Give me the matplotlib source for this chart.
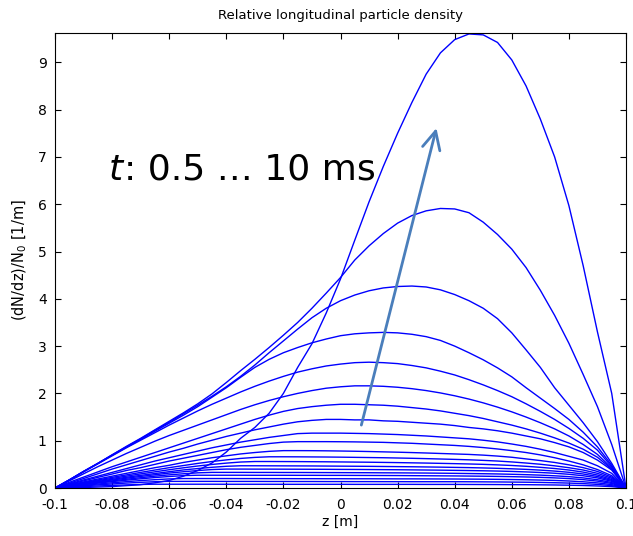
import matplotlib
matplotlib.use("Agg")
import matplotlib.pyplot as plt
from matplotlib.transforms import IdentityTransform

# ---------------- data ----------------
z = [-0.100, -0.095, -0.090, -0.085, -0.080, -0.075, -0.070, -0.065, -0.060, -0.055,
     -0.050, -0.045, -0.040, -0.035, -0.030, -0.025, -0.020, -0.015, -0.010, -0.005,
     0.000, 0.005, 0.010, 0.015, 0.020, 0.025, 0.030, 0.035, 0.040, 0.045,
     0.050, 0.055, 0.060, 0.065, 0.070, 0.075, 0.080, 0.085, 0.090, 0.095, 0.100]

t_ms = [0.5, 1.0, 1.5, 2.0, 2.5, 3.0, 3.5, 4.0, 4.5, 5.0,
        5.5, 6.0, 6.5, 7.0, 7.5, 8.0, 8.5, 9.0, 9.5, 10.0]

d_t10_0 = [0, 0.005, 0.01, 0.02, 0.03, 0.05, 0.07, 0.11, 0.16, 0.25, 0.37, 0.53, 0.76, 1.05,
           1.28, 1.58, 2.0, 2.55, 3.05, 3.7, 4.42, 5.24, 6.05, 6.8, 7.5, 8.15, 8.75, 9.2,
           9.48, 9.6, 9.58, 9.42, 9.05, 8.5, 7.8, 7.0, 5.97, 4.7, 3.3, 2.0, 0]
d_t9_5 = [0, 0.17, 0.35, 0.52, 0.70, 0.88, 1.05, 1.23, 1.41, 1.59, 1.78, 1.99, 2.23, 2.48,
          2.72, 2.97, 3.23, 3.50, 3.80, 4.12, 4.45, 4.82, 5.12, 5.38, 5.60, 5.76, 5.86, 5.91,
          5.90, 5.82, 5.62, 5.36, 5.05, 4.66, 4.18, 3.65, 3.06, 2.40, 1.72, 0.92, 0]
d_t9_0 = [0, 0.17, 0.35, 0.52, 0.70, 0.87, 1.04, 1.22, 1.39, 1.57, 1.75, 1.94, 2.14, 2.36,
          2.60, 2.86, 3.11, 3.36, 3.60, 3.80, 3.96, 4.08, 4.17, 4.23, 4.26, 4.27, 4.25, 4.19,
          4.09, 3.96, 3.80, 3.58, 3.28, 2.92, 2.55, 2.12, 1.75, 1.38, 0.98, 0.52, 0]
d_t8_5 = [0, 0.17, 0.35, 0.52, 0.69, 0.86, 1.03, 1.20, 1.37, 1.54, 1.72, 1.92, 2.12, 2.34,
          2.55, 2.72, 2.86, 2.97, 3.07, 3.15, 3.22, 3.26, 3.28, 3.29, 3.28, 3.25, 3.20, 3.12,
          3.00, 2.86, 2.71, 2.54, 2.35, 2.12, 1.90, 1.68, 1.45, 1.18, 0.87, 0.48, 0]
d_t8_0 = [0, 0.17, 0.34, 0.51, 0.68, 0.85, 1.01, 1.17, 1.33, 1.48, 1.63, 1.77, 1.90, 2.03,
          2.15, 2.26, 2.36, 2.45, 2.52, 2.58, 2.62, 2.65, 2.66, 2.65, 2.63, 2.59, 2.54, 2.47,
          2.39, 2.29, 2.18, 2.06, 1.93, 1.78, 1.62, 1.45, 1.26, 1.05, 0.80, 0.45, 0]
d_t7_5 = [0, 0.15, 0.30, 0.45, 0.59, 0.73, 0.86, 0.99, 1.11, 1.22, 1.33, 1.44, 1.55, 1.66,
          1.76, 1.85, 1.93, 2.00, 2.06, 2.11, 2.14, 2.16, 2.16, 2.15, 2.13, 2.10, 2.06, 2.01,
          1.95, 1.88, 1.80, 1.71, 1.61, 1.50, 1.38, 1.25, 1.10, 0.92, 0.71, 0.42, 0]
d_t7_0 = [0, 0.12, 0.23, 0.34, 0.45, 0.55, 0.65, 0.75, 0.85, 0.95, 1.05, 1.15, 1.25, 1.35,
          1.45, 1.54, 1.62, 1.68, 1.72, 1.75, 1.77, 1.77, 1.76, 1.75, 1.73, 1.70, 1.67, 1.63,
          1.58, 1.53, 1.47, 1.40, 1.33, 1.25, 1.16, 1.06, 0.95, 0.82, 0.65, 0.40, 0]
d_t6_5 = [0, 0.10, 0.20, 0.30, 0.40, 0.49, 0.58, 0.67, 0.76, 0.84, 0.93, 1.01, 1.09, 1.16,
          1.23, 1.29, 1.35, 1.40, 1.43, 1.45, 1.45, 1.44, 1.44, 1.42, 1.41, 1.39, 1.37, 1.35,
          1.32, 1.28, 1.25, 1.21, 1.16, 1.10, 1.04, 0.96, 0.87, 0.75, 0.59, 0.38, 0]
d_t6_0 = [0, 0.085, 0.17, 0.25, 0.33, 0.41, 0.49, 0.57, 0.64, 0.71, 0.78, 0.85, 0.91, 0.97,
          1.02, 1.07, 1.11, 1.15, 1.16, 1.16, 1.16, 1.155, 1.15, 1.14, 1.13, 1.115, 1.10, 1.08,
          1.06, 1.04, 1.01, 0.975, 0.93, 0.88, 0.82, 0.75, 0.67, 0.59, 0.47, 0.31, 0]
d_t5_5 = [0, 0.075, 0.15, 0.225, 0.295, 0.37, 0.43, 0.50, 0.57, 0.63, 0.69, 0.75, 0.81, 0.86,
          0.90, 0.94, 0.97, 0.98, 0.98, 0.98, 0.978, 0.975, 0.97, 0.965, 0.955, 0.945, 0.93,
          0.915, 0.90, 0.88, 0.855, 0.825, 0.79, 0.75, 0.70, 0.64, 0.57, 0.49, 0.39, 0.26, 0]
d_t5_0 = [0, 0.064, 0.128, 0.19, 0.25, 0.31, 0.37, 0.43, 0.48, 0.54, 0.59, 0.64, 0.68, 0.72,
          0.75, 0.775, 0.79, 0.79, 0.789, 0.786, 0.782, 0.777, 0.771, 0.764, 0.757, 0.749,
          0.74, 0.73, 0.72, 0.71, 0.695, 0.675, 0.65, 0.615, 0.58, 0.54, 0.49, 0.43, 0.35,
          0.23, 0]
d_t4_5 = [0, 0.057, 0.114, 0.17, 0.225, 0.277, 0.33, 0.38, 0.43, 0.475, 0.52, 0.56, 0.594,
          0.625, 0.647, 0.66, 0.66, 0.659, 0.657, 0.655, 0.652, 0.648, 0.644, 0.64, 0.634,
          0.628, 0.621, 0.613, 0.605, 0.596, 0.584, 0.57, 0.551, 0.528, 0.502, 0.469, 0.429,
          0.38, 0.31, 0.205, 0]
d_t4_0 = [0, 0.052, 0.104, 0.155, 0.203, 0.251, 0.298, 0.342, 0.386, 0.427, 0.465, 0.498,
          0.526, 0.549, 0.56, 0.56, 0.559, 0.558, 0.556, 0.554, 0.551, 0.548, 0.545, 0.541,
          0.537, 0.532, 0.527, 0.521, 0.515, 0.508, 0.5, 0.489, 0.476, 0.459, 0.437, 0.412,
          0.38, 0.336, 0.274, 0.18, 0]
d_t3_5 = [0, 0.047, 0.094, 0.14, 0.183, 0.227, 0.267, 0.306, 0.345, 0.382, 0.411, 0.438,
          0.459, 0.47, 0.47, 0.469, 0.468, 0.467, 0.466, 0.464, 0.462, 0.46, 0.458, 0.455,
          0.452, 0.449, 0.445, 0.441, 0.436, 0.431, 0.424, 0.416, 0.406, 0.394, 0.378, 0.358,
          0.332, 0.296, 0.243, 0.16, 0]
d_t3_0 = [0, 0.043, 0.087, 0.128, 0.168, 0.207, 0.244, 0.28, 0.315, 0.344, 0.369, 0.39,
          0.40, 0.40, 0.399, 0.399, 0.398, 0.397, 0.396, 0.395, 0.393, 0.392, 0.39, 0.388,
          0.386, 0.383, 0.38, 0.377, 0.373, 0.369, 0.364, 0.358, 0.35, 0.34, 0.328, 0.312,
          0.29, 0.259, 0.213, 0.14, 0]
d_t2_5 = [0, 0.039, 0.078, 0.115, 0.151, 0.185, 0.218, 0.25, 0.278, 0.301, 0.321, 0.33,
          0.33, 0.33, 0.329, 0.329, 0.328, 0.328, 0.327, 0.326, 0.325, 0.324, 0.323, 0.321,
          0.32, 0.318, 0.316, 0.313, 0.31, 0.306, 0.302, 0.297, 0.29, 0.282, 0.272, 0.258,
          0.24, 0.214, 0.175, 0.116, 0]
d_t2_0 = [0, 0.035, 0.07, 0.103, 0.135, 0.165, 0.194, 0.221, 0.243, 0.262, 0.27, 0.27,
          0.27, 0.27, 0.269, 0.269, 0.269, 0.268, 0.268, 0.267, 0.267, 0.266, 0.265, 0.264,
          0.263, 0.261, 0.259, 0.257, 0.255, 0.252, 0.249, 0.245, 0.24, 0.233, 0.225, 0.214,
          0.199, 0.177, 0.145, 0.096, 0]
d_t1_5 = [0, 0.029, 0.057, 0.084, 0.11, 0.134, 0.157, 0.176, 0.192, 0.20, 0.2, 0.2, 0.2,
          0.199, 0.199, 0.198, 0.198, 0.197, 0.197, 0.196, 0.196, 0.195, 0.195, 0.194, 0.193,
          0.193, 0.192, 0.191, 0.19, 0.188, 0.186, 0.183, 0.179, 0.174, 0.168, 0.16, 0.148,
          0.132, 0.108, 0.072, 0]
d_t1_0 = [0, 0.023, 0.045, 0.066, 0.085, 0.104, 0.12, 0.133, 0.14, 0.14, 0.14, 0.14, 0.139,
          0.139, 0.139, 0.138, 0.138, 0.137, 0.137, 0.136, 0.136, 0.135, 0.135, 0.134, 0.134,
          0.133, 0.133, 0.133, 0.133, 0.132, 0.13, 0.128, 0.125, 0.122, 0.118, 0.112, 0.104,
          0.093, 0.076, 0.05, 0]
d_t0_5 = [0, 0.015, 0.029, 0.043, 0.055, 0.066, 0.075, 0.08, 0.08, 0.08, 0.08, 0.08, 0.079,
          0.079, 0.079, 0.079, 0.078, 0.078, 0.078, 0.078, 0.078, 0.077, 0.077, 0.077, 0.077,
          0.077, 0.076, 0.076, 0.076, 0.075, 0.074, 0.073, 0.071, 0.07, 0.067, 0.064, 0.059,
          0.053, 0.043, 0.029, 0]

curves = [d_t0_5, d_t1_0, d_t1_5, d_t2_0, d_t2_5, d_t3_0, d_t3_5, d_t4_0, d_t4_5, d_t5_0,
          d_t5_5, d_t6_0, d_t6_5, d_t7_0, d_t7_5, d_t8_0, d_t8_5, d_t9_0, d_t9_5, d_t10_0]

x_ticks = [-0.1, -0.08, -0.06, -0.04, -0.02, 0.0, 0.02, 0.04, 0.06, 0.08, 0.1]
x_tick_labels = ["-0.1", "-0.08", "-0.06", "-0.04", "-0.02", "0", "0.02", "0.04", "0.06", "0.08", "0.1"]
y_ticks = [0, 1, 2, 3, 4, 5, 6, 7, 8, 9]
y_tick_labels = ["0", "1", "2", "3", "4", "5", "6", "7", "8", "9"]

title_text = "Relative longitudinal particle density"
xlabel_text = "z [m]"
ylabel_text = r"(dN/dz)/N$_0$ [1/m]"
note_italic = "t"
note_rest = ": 0.5 \u2026 10 ms"

# ---------------- figure ----------------
plt.rcParams["font.family"] = ["DejaVu Sans"]
W, H = 633, 536
fig = plt.figure(figsize=(W / 100, H / 100), dpi=100)
ax_left, ax_right, ax_top, ax_bottom = 55, 626, 33, 488
ax = fig.add_axes([ax_left / W, 1 - ax_bottom / H, (ax_right - ax_left) / W, (ax_bottom - ax_top) / H])

for yv in curves:
    ax.plot(z, yv, color="#0000ff", lw=1.0, solid_joinstyle="round")

ax.set_xlim(-0.1, 0.1)
ax.set_ylim(0, 9.62)
ax.set_xticks(x_ticks)
ax.set_xticklabels(x_tick_labels)
ax.set_yticks(y_ticks)
ax.set_yticklabels(y_tick_labels)
ax.tick_params(direction="in", length=4, width=0.8, top=True, right=True, labelsize=10)
ax.tick_params(axis="x", pad=7)
ax.tick_params(axis="y", pad=6)
for s in ax.spines.values():
    s.set_linewidth(0.8)
    s.set_color("black")

ax.set_title(title_text, fontsize=9.5, pad=10)
ax.set_xlabel(xlabel_text, fontsize=10, labelpad=2)
ax.set_ylabel(ylabel_text, fontsize=10.5, labelpad=6)

# annotation text: italic t followed by the rest, baseline 180 px from top
t1 = fig.text(109, H - 180, note_italic, transform=IdentityTransform(), fontsize=26,
              family="DejaVu Sans", style="italic", va="baseline", ha="left")
fig.canvas.draw()
bb = t1.get_window_extent(fig.canvas.get_renderer())
fig.text(bb.x1 + 1, H - 180, note_rest, transform=IdentityTransform(), fontsize=26,
         family="DejaVu Sans", va="baseline", ha="left")

ax.annotate("", xy=(0.0336, 7.61), xytext=(0.0073, 1.33),
            arrowprops=dict(arrowstyle="->,head_length=0.65,head_width=0.32",
                            color="#4A7EBB", lw=2.0, mutation_scale=20,
                            shrinkA=0, shrinkB=0))

fig.savefig("out.png", dpi=100)
